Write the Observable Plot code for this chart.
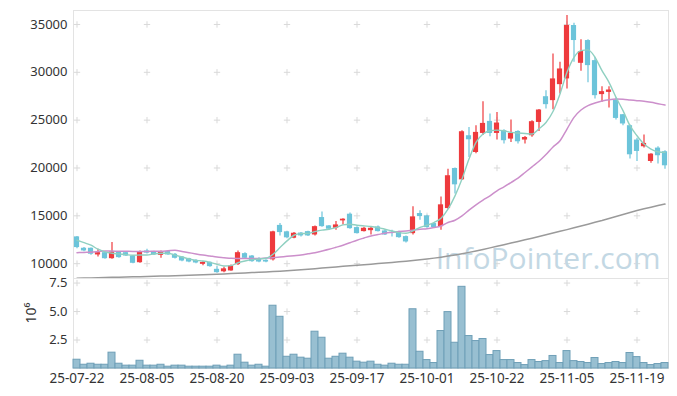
<!DOCTYPE html>
<html><head><meta charset="utf-8">
<script src="https://cdn.jsdelivr.net/npm/d3@7"></script>
<script src="https://cdn.jsdelivr.net/npm/@observablehq/plot@0.6"></script>
<style>body{margin:0;background:#fff}#chart svg{display:block}</style>
</head><body><div id="chart"></div><script>
const dates = ["25-07-22","25-07-23","25-07-24","25-07-25","25-07-28","25-07-29","25-07-30","25-07-31","25-08-01","25-08-04",
"25-08-05","25-08-06","25-08-07","25-08-08","25-08-11","25-08-12","25-08-13","25-08-14","25-08-18","25-08-19",
"25-08-20","25-08-21","25-08-22","25-08-25","25-08-26","25-08-27","25-08-28","25-08-29","25-09-01","25-09-02",
"25-09-03","25-09-04","25-09-05","25-09-08","25-09-09","25-09-10","25-09-11","25-09-12","25-09-15","25-09-16",
"25-09-17","25-09-18","25-09-19","25-09-22","25-09-23","25-09-24","25-09-25","25-09-26","25-09-29","25-09-30",
"25-10-01","25-10-02","25-10-10","25-10-13","25-10-14","25-10-15","25-10-16","25-10-17","25-10-20","25-10-21",
"25-10-22","25-10-23","25-10-24","25-10-27","25-10-28","25-10-29","25-10-30","25-10-31","25-11-03","25-11-04",
"25-11-05","25-11-06","25-11-07","25-11-10","25-11-11","25-11-12","25-11-13","25-11-14","25-11-17","25-11-18",
"25-11-19","25-11-20","25-11-21","25-11-24","25-11-25"];
const open = [12800,11610,11610,10910,11150,10520,11225,11150,10800,10100,
11330,11260,10870,11260,10980,10700,10520,10350,9930,10140,
9410,9150,9240,9900,11050,10800,10520,10350,10400,14000,
13330,12660,13200,13350,13000,14820,13950,13700,14470,15170,
13770,13350,13450,13840,13420,13280,13350,12830,13140,15240,
14990,14190,13870,15760,19950,18760,23370,21620,23610,24870,
23610,23890,23020,23820,22920,23370,24760,27450,27040,28710,
29310,34890,30940,33320,31220,27670,27900,27110,25570,24420,
22920,22220,20680,22080,21700];
const high = [12850,11700,11650,11510,11200,12200,11260,11260,10850,11330,
11500,11300,11330,11330,11050,10750,10560,10420,10210,10170,
9690,9620,9860,11330,11150,10850,10630,10420,13400,14200,
13400,13250,13250,13400,13950,15410,14000,14400,14700,15300,
13850,13800,13840,13950,13500,13500,13400,12900,15940,15520,
15050,14250,16980,19880,20000,23900,24240,24420,26930,25640,
25810,24000,25010,23900,23300,24950,26100,28080,31920,31040,
35930,35130,33390,33400,31570,28500,28500,27320,25600,24500,
23100,23440,21500,22220,21800];
const low = [11570,11250,10880,10700,10450,10460,10560,10740,9980,10050,
11000,10850,10560,10870,10490,10210,10100,10000,9790,9620,
8990,9060,9200,9800,10490,10140,10100,10100,10280,12900,
12600,12600,12800,12850,12900,13800,13500,13500,14050,13600,
13100,13300,13000,13300,12950,12800,12650,12150,13000,14540,
13700,13700,13500,15700,17270,18700,21100,21500,23400,23270,
22920,22500,22670,22500,22500,23200,23820,26170,26090,27740,
28260,31040,30100,28910,27210,26860,26270,25010,24420,20930,
20680,22080,20500,20410,19880];
const close = [11680,11330,10985,11150,10520,11225,10630,10800,10040,11225,
11100,10910,11260,10910,10560,10280,10170,10070,10140,9690,
9060,9460,9760,11150,10560,10210,10170,10170,13330,13250,
12700,13180,12900,12900,13870,13870,13600,14050,14650,13660,
13140,13700,13700,13350,13000,13180,12720,12270,14890,14920,
13770,13770,16150,19190,18240,23790,22950,23720,24660,23610,
24700,22850,23610,22740,23190,24840,26060,26620,29310,30350,
34890,33320,32170,30700,27560,27980,28150,25180,24600,21380,
21730,22570,21450,21280,20230];
const volume = [0.77,0.33,0.42,0.33,0.33,1.39,0.42,0.25,0.25,0.68,
0.25,0.25,0.33,0.16,0.25,0.25,0.16,0.16,0.16,0.16,
0.25,0.16,0.25,1.21,0.51,0.25,0.33,0.16,5.51,4.54,
1.03,1.21,0.95,0.86,3.23,2.70,0.86,1.03,1.30,0.95,
0.60,0.51,0.60,0.33,0.25,0.42,0.33,0.33,5.20,1.47,
0.74,0.48,3.29,4.95,2.26,7.17,2.85,2.41,2.59,1.18,
1.53,0.74,0.74,0.48,0.30,0.74,0.57,0.65,1.10,0.48,
1.53,0.65,0.57,0.48,0.92,0.39,0.48,0.57,0.48,1.36,
1.00,0.48,0.30,0.39,0.48];
const ma5 = [12450,12200,11930,11510,11225,11090,11020,10940,10880,10900,
10900,11020,11090,11090,10900,10700,10490,10350,10280,10140,
9930,9760,9800,10100,10280,10420,10490,10560,10980,11680,
12380,12970,13140,13170,13350,13500,13600,13770,14050,14120,
14020,13950,13890,13770,13600,13420,13250,13180,13420,13800,
14020,14300,14750,15700,17090,18840,20930,22670,23550,23890,
23960,23890,23720,23650,23610,23550,24100,24760,25900,27740,
30000,31570,32270,32340,31570,30180,28950,27380,25990,24420,
23370,22500,21980,21700,21630];
const ma20 = [11150,11180,11200,11260,11330,11320,11300,11290,11280,11280,
11280,11290,11300,11350,11400,11280,11150,11020,10900,10800,
10700,10630,10560,10540,10530,10530,10530,10580,10630,10700,
10770,10840,10910,11030,11150,11320,11500,11710,11930,12190,
12450,12680,12900,13040,13180,13270,13350,13420,13500,13600,
13650,13770,13940,14300,14540,14990,15590,16150,16640,17090,
17610,18030,18480,18940,19530,20120,20700,21400,22200,22850,
24070,25290,26060,26510,26790,27000,27140,27210,27180,27110,
27040,26970,26860,26720,26580];
const ma120 = [8470,8490,8510,8530,8550,8570,8590,8610,8630,8645,
8660,8680,8700,8720,8740,8765,8790,8815,8840,8865,
8890,8925,8960,8995,9030,9065,9100,9140,9180,9220,
9260,9310,9360,9420,9480,9540,9600,9660,9720,9775,
9830,9890,9950,10010,10070,10130,10190,10250,10320,10400,
10490,10580,10680,10790,10910,11040,11180,11330,11490,11650,
11810,11980,12150,12320,12490,12660,12840,13020,13200,13380,
13560,13750,13940,14130,14320,14510,14720,14930,15140,15350,
15560,15730,15900,16070,16230];
const xTickLabels = ["25-07-22","25-08-05","25-08-20","25-09-03","25-09-17","25-10-01","25-10-22","25-11-05","25-11-19"];
const priceTicks = [10000,15000,20000,25000,30000,35000];
const volTicks = [2.5,5.0,7.5];

const rows = dates.map((d,i)=>({i, date:d, open:open[i], high:high[i], low:low[i], close:close[i],
  vol:volume[i], ma5:ma5[i], ma20:ma20[i], ma120:ma120[i], up: close[i] >= open[i]}));
const upRows = rows.filter(d=>d.up), downRows = rows.filter(d=>!d.up);
const tickIdx = xTickLabels.map(l=>dates.indexOf(l));
const W = 677, ML = 73, MR = 9;
const UP = "#ee3a3d", DOWN = "#6cc4da";
const xOpt = {type:"linear", domain:[-0.5, dates.length-0.5]};
const crosses = yt => yt.flatMap(y => tickIdx.map(x => ({x, y})));
const style = {fontFamily:"'Noto Sans', sans-serif", fontSize:"13px", color:"#333", background:"#fff", overflow:"visible"};

const price = Plot.plot({
  width: W, height: 278, marginTop: 10, marginBottom: 0, marginLeft: ML, marginRight: MR,
  style,
  x: {...xOpt, axis: null},
  y: {domain:[8450, 36460], axis: null},
  marks: [
    Plot.frame({stroke:"#e3e3e3"}),
    Plot.dot(crosses(priceTicks), {x:"x", y:"y", symbol:"plus", r:2.2, stroke:"#d9d9d9", strokeWidth:1}),
    Plot.text(["InfoPointer.com"], {frameAnchor:"bottom-right", dx:-8, dy:-10, lineAnchor:"bottom", textAnchor:"end",
      fontSize:30, fill:"#c3d8e4", fontFamily:"'Open Sans', sans-serif"}),
    Plot.axisY({ticks: priceTicks, tickSize:0, tickPadding:6, tickFormat: d=>String(d), fill:"#333", fontSize:13}),
    Plot.ruleX(upRows, {x:"i", y1:"low", y2:"high", stroke:UP, strokeWidth:1.2}),
    Plot.ruleX(downRows, {x:"i", y1:"low", y2:"high", stroke:DOWN, strokeWidth:1.2}),
    Plot.rectY(upRows, {x1:d=>d.i-0.37, x2:d=>d.i+0.37, y1:"open", y2:"close", fill:UP}),
    Plot.rectY(downRows, {x1:d=>d.i-0.37, x2:d=>d.i+0.37, y1:"open", y2:"close", fill:DOWN}),
    Plot.line(rows, {x:"i", y:"ma120", stroke:"#9a9a9a", strokeWidth:1.5}),
    Plot.line(rows, {x:"i", y:"ma20", stroke:"#cc8fcb", strokeWidth:1.5, curve:"monotone-x"}),
    Plot.line(rows, {x:"i", y:"ma5", stroke:"#8fd0c1", strokeWidth:1.4, curve:"monotone-x"})
  ]
});

const vol = Plot.plot({
  width: W, height: 118, marginTop: 0, marginBottom: 28, marginLeft: ML, marginRight: MR,
  style,
  x: {...xOpt, axis: null},
  y: {domain:[0, 7.9], axis: null},
  marks: [
    Plot.frame({stroke:"#e3e3e3"}),
    Plot.dot(crosses(volTicks), {x:"x", y:"y", symbol:"plus", r:2.2, stroke:"#d9d9d9", strokeWidth:1}),
    Plot.axisY({ticks: volTicks, tickSize:0, tickPadding:6, tickFormat: d=>d.toFixed(1), fill:"#333", fontSize:13, label:null}),
    Plot.axisX({ticks: tickIdx, tickSize:0, tickPadding:5, tickFormat: i=>dates[i], fill:"#333", fontSize:13.5, label:null}),
    Plot.text(["10⁶"], {frameAnchor:"left", dx:-42, rotate:-90, fontSize:14, fill:"#333"}),
    Plot.rectY(rows, {x1:d=>d.i-0.5, x2:d=>d.i+0.5, y:"vol", fill:"#98bfd1", stroke:"#6f9fb7", strokeWidth:1})
  ]
});

document.getElementById("chart").append(price, vol);
</script></body></html>
